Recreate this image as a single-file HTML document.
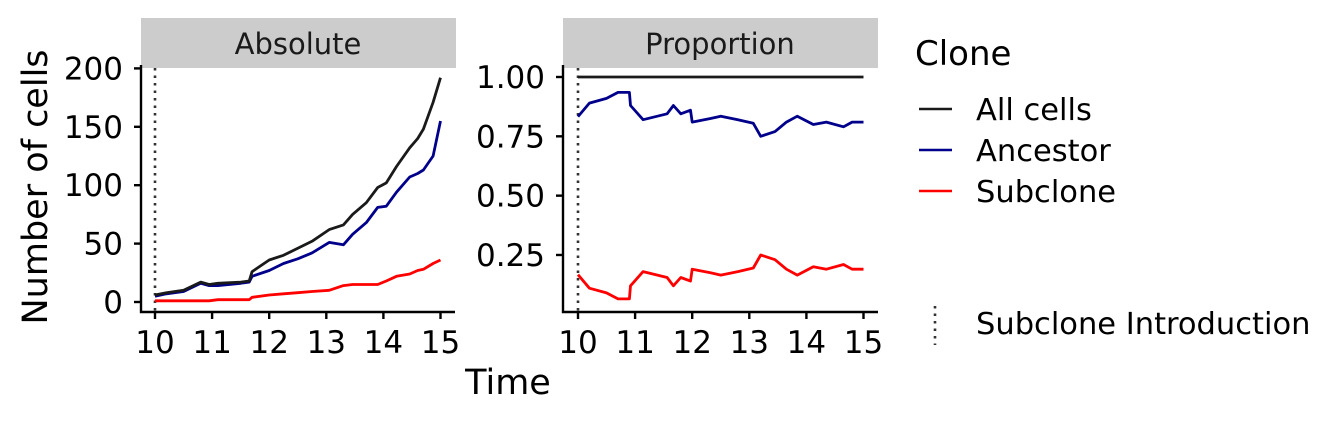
<!DOCTYPE html>
<html><head><meta charset="utf-8"><style>
html,body{margin:0;padding:0;background:#fff;}
svg{display:block;font-family:"DejaVu Sans","Liberation Sans",sans-serif;}
</style></head><body>
<svg id="c" width="1344" height="422" viewBox="0 0 1344 422" xmlns="http://www.w3.org/2000/svg">
<rect width="1344" height="422" fill="#fff"/>
<rect x="141" y="18" width="315" height="50" fill="#cccccc"/>
<text x="298" y="54" font-size="29" text-anchor="middle" fill="#1a1a1a">Absolute</text>
<rect x="563" y="18" width="315" height="50" fill="#cccccc"/>
<text x="720" y="54" font-size="29" text-anchor="middle" fill="#1a1a1a">Proportion</text>
<g id="g1"></g><g id="g2"></g>
<text x="508" y="394" font-size="35" text-anchor="middle" fill="#000">Time</text>
<text transform="translate(47,187) rotate(-90)" font-size="35" text-anchor="middle" fill="#000">Number of cells</text>
<g>
<text x="915" y="65" font-size="34" fill="#000">Clone</text>
<line x1="919" y1="109" x2="952" y2="109" stroke="#1a1a1a" stroke-width="2.6"/>
<text x="976" y="120" font-size="30.5" fill="#000">All cells</text>
<line x1="919" y1="150" x2="952" y2="150" stroke="#00008b" stroke-width="2.6"/>
<text x="976" y="161" font-size="30.5" fill="#000">Ancestor</text>
<line x1="919" y1="191" x2="952" y2="191" stroke="#ff0000" stroke-width="2.6"/>
<text x="976" y="202" font-size="30.5" fill="#000">Subclone</text>
<line x1="935" y1="306" x2="935" y2="345" stroke="#333" stroke-width="2.6" stroke-dasharray="2.5,5"/>
<text x="976" y="334" font-size="30.5" fill="#000">Subclone Introduction</text>
</g>
</svg>
<script>
const absTimes = [10,10.2,10.5,10.8,10.95,11.1,11.5,11.65,11.7,12.0,12.25,12.5,12.75,13.05,13.3,13.46,13.7,13.9,14.05,14.23,14.46,14.6,14.7,14.87,15];
const absAll   = [6,8,10,17,15,16,17,18,26,36,40,46,52,62,66,75,85,98,102,116,132,140,148,171,192];
const absAnc   = [5,7,9,16,14,14,16,17,22,27,33,37,42,51,49,58,68,81,82,94,107,110,113,125,155];
const absSub   = [1,1,1,1,1,2,2,2,4,6,7,8,9,10,14,15,15,15,18,22,24,27,28,33,36];
const propTimes = [10,10.2,10.5,10.7,10.9,10.92,11.14,11.56,11.67,11.8,11.97,12.0,12.32,12.5,12.8,13.07,13.2,13.45,13.65,13.84,14.12,14.35,14.65,14.8,15];
const propAnc  = [0.833,0.89,0.91,0.935,0.935,0.88,0.82,0.845,0.88,0.845,0.86,0.81,0.825,0.835,0.82,0.805,0.75,0.77,0.81,0.835,0.80,0.81,0.79,0.81,0.81];
const propSub  = [0.167,0.11,0.09,0.065,0.065,0.12,0.18,0.155,0.12,0.155,0.14,0.19,0.175,0.165,0.18,0.195,0.25,0.23,0.19,0.165,0.20,0.19,0.21,0.19,0.19];
const propAll  = [1,1];
const propAllT = [10,15];
const absTicks = [0,50,100,150,200];
const propTicks = [0.25,0.50,0.75,1.00];
const propTickLabels = ["0.25","0.50","0.75","1.00"];
const xTicks = [10,11,12,13,14,15];
const introTime = 10;
const NS = "http://www.w3.org/2000/svg";
function mk(parent, tag, attrs){const e=document.createElementNS(NS,tag);for(const k in attrs)e.setAttribute(k,attrs[k]);parent.appendChild(e);return e;}
function panel(g, axX, ox, yScale, yTicks, yLabels, series){
  const xs = t => ox + (t-10)*57.1;
  const top=68, bottom=312;
  const dl = mk(g,'line',{x1:xs(introTime),x2:xs(introTime),y1:top,y2:bottom,stroke:'#333','stroke-width':2.6,'stroke-dasharray':'2.5,5'});
  
  
  series.forEach(s=>{
    const p = mk(g,'path',{d:s.t.map((t,i)=>(i?'L':'M')+xs(t).toFixed(1)+','+yScale(s.v[i]).toFixed(1)).join(''),fill:'none',stroke:s.c,'stroke-width':2.8,'stroke-linejoin':'round'});
    
    
  });
  const ax = mk(g,'path',{d:`M${axX},${top-3}V${bottom}H${ox+300}`,fill:'none',stroke:'#000','stroke-width':2.4});
  
  
  yTicks.forEach((v,i)=>{
    const y=yScale(v);
    mk(g,'line',{x1:axX-7,x2:axX,y1:y,y2:y,stroke:'#000','stroke-width':2.4});
    const tx = mk(g,'text',{x:axX-18,y:y+11,'font-size':31,'text-anchor':'end',fill:'#000'});
    tx.textContent = yLabels[i];
    
    
  });
  xTicks.forEach(t=>{
    mk(g,'line',{x1:xs(t),x2:xs(t),y1:bottom,y2:bottom+7,stroke:'#000','stroke-width':2.4});
    const tx = mk(g,'text',{x:xs(t),y:353,'font-size':31,'text-anchor':'middle',fill:'#000'});
    tx.textContent = t;
    
    
  });
}
const yAbs = v => 302 - v*1.168;
const yProp = v => 77 + (1-v)*237.3;
panel(document.getElementById('g1'),141,155,yAbs,absTicks,absTicks.map(String),[
  {t:absTimes,v:absSub,c:'#ff0000',n:'absolute-subclone-line'},
  {t:absTimes,v:absAnc,c:'#00008b',n:'absolute-ancestor-line'},
  {t:absTimes,v:absAll,c:'#1a1a1a',n:'absolute-all-cells-line'}]);
panel(document.getElementById('g2'),563,578,yProp,propTicks,propTickLabels,[
  {t:propTimes,v:propSub,c:'#ff0000',n:'proportion-subclone-line'},
  {t:propTimes,v:propAnc,c:'#00008b',n:'proportion-ancestor-line'},
  {t:propAllT,v:propAll,c:'#1a1a1a',n:'proportion-all-cells-line'}]);
</script>
</body></html>
